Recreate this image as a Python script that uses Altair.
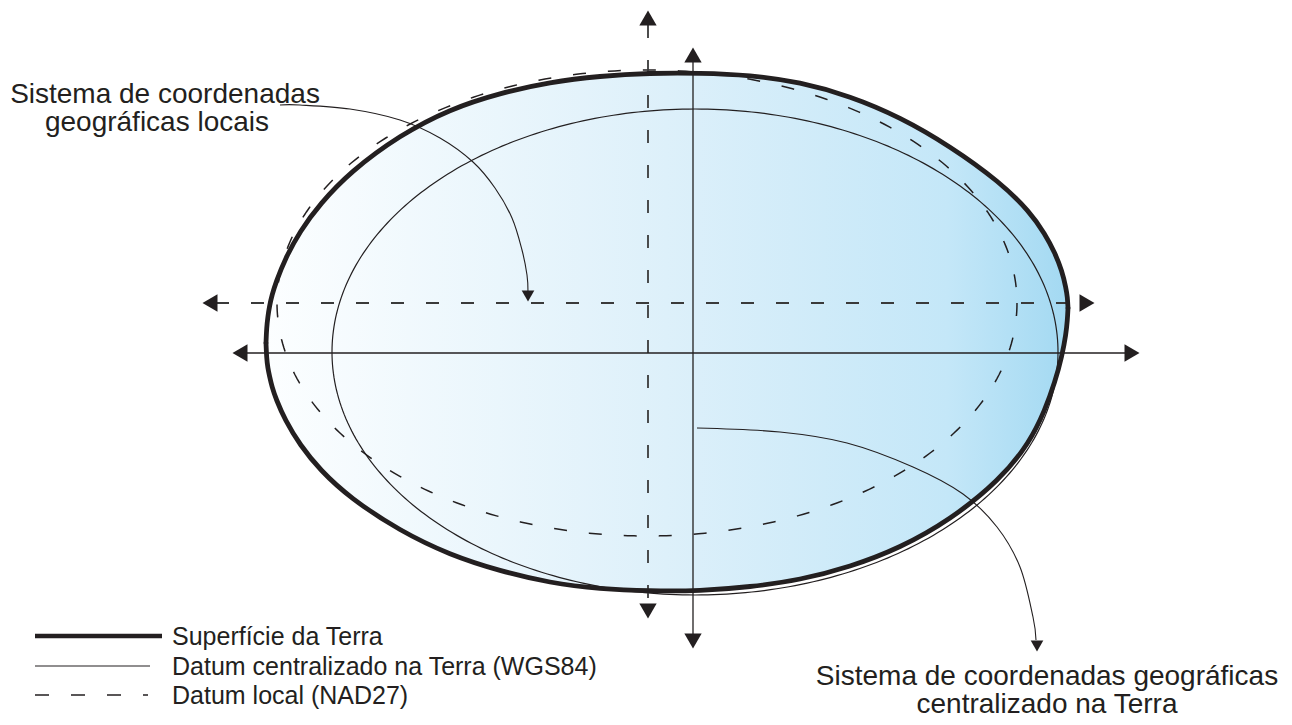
import altair as alt
import numpy as np
import pandas as pd

INK = "#231f20"
FONT = "Liberation Sans"

# ---- Earth surface outline (pixel coords) ----
EARTH_X = [266, 266.6, 267.8, 269.5, 272, 276, 285, 300, 320, 350, 400, 450, 500, 550, 600, 650,
           700, 750, 800, 850, 900, 950, 1000, 1030, 1045, 1055, 1062, 1066, 1067.4, 1068]
EARTH_TOP = [343, 328, 317, 306, 295, 282, 259, 231, 204, 172, 135, 109, 93, 82, 76, 73,
             73, 75, 82, 96, 117, 146, 182, 212, 234, 253, 271, 288, 297, 308]
EARTH_BOT = [343, 358, 368, 376, 387, 399, 420, 445, 470, 498, 531, 555, 571, 583, 589, 591,
             591, 587, 580, 567, 548, 520, 480, 442, 410, 382, 356, 334, 320, 308]

# ---- Datum ellipses: centre and semi-axes ----
DATUM_NAME = ["WGS84", "NAD27"]
DATUM_CX = [695, 647]
DATUM_CY = [352, 303]
DATUM_RX = [363, 370]
DATUM_RY = [243, 233]

# ---- Coordinate axes (segments) ----
AXIS_KIND = ["solid", "solid", "dashed", "dashed"]
AXIS_X1 = [246, 693, 216, 648]
AXIS_X2 = [1126, 693, 1081, 648]
AXIS_Y1 = [353, 62, 303, 25]
AXIS_Y2 = [353, 634, 303, 604]

# ---- Arrow heads ----
HEAD_X = [240, 1132, 693, 693, 210, 1087, 648, 648, 528, 1037]
HEAD_Y = [353, 353, 55, 641, 303, 303, 18, 611, 296, 646]
HEAD_SHAPE = ["triangle-left", "triangle-right", "triangle-up", "triangle-down",
              "triangle-left", "triangle-right", "triangle-up", "triangle-down",
              "triangle-down", "triangle-down"]
HEAD_SIZE = [300, 300, 300, 300, 300, 300, 300, 300, 160, 160]

# ---- Callout curves ----
CURVE1_X = [280, 300, 350, 400, 440, 473, 495, 512, 522, 527, 528]
CURVE1_Y = [105, 105, 109, 120, 138, 162, 188, 218, 250, 275, 292]
CURVE2_X = [697, 780, 847, 913, 963, 997, 1020, 1033, 1036]
CURVE2_Y = [428, 432, 443, 467, 494, 527, 567, 617, 640]

# ---- Texts ----
NOTE_TEXT = ["Sistema de coordenadas", "geográficas locais",
             "Sistema de coordenadas geográficas", "centralizado na Terra"]
NOTE_X = [165, 157, 1047, 1047]
NOTE_Y = [103, 131, 685, 713]

LEG_TEXT = ["Superfície da Terra", "Datum centralizado na Terra (WGS84)", "Datum local (NAD27)"]
LEG_KIND = ["thick", "thin", "dashed"]
LEG_X1 = [35, 35, 35]
LEG_X2 = [162, 150, 148]
LEG_Y = [636, 666, 695]
LEG_TX = [172, 172, 172]

xs = alt.Scale(domain=[8, 1284], nice=False, zero=False)
ys = alt.Scale(domain=[8, 717], nice=False, zero=False, reverse=True)


def X(f):
    return alt.X(f, type="quantitative", scale=xs, axis=None)


def Y(f):
    return alt.Y(f, type="quantitative", scale=ys, axis=None)


earth = pd.DataFrame({"x": EARTH_X, "top": EARTH_TOP, "bot": EARTH_BOT})

fill = alt.Chart(earth).mark_area(
    interpolate="basis",
    color=alt.Gradient(
        gradient="linear", x1=0, x2=1, y1=0, y2=0,
        stops=[alt.GradientStop(offset=0, color="#fcfeff"),
               alt.GradientStop(offset=0.5, color="#ddf0fa"),
               alt.GradientStop(offset=0.85, color="#c4e7f8"),
               alt.GradientStop(offset=1, color="#a3d9f2")]),
).encode(x=X("x"), y=Y("top"), y2="bot")

outline_top = alt.Chart(earth).mark_line(
    interpolate="basis", color=INK, strokeWidth=4.8, strokeCap="round"
).encode(x=X("x"), y=Y("top"))
outline_bot = alt.Chart(earth).mark_line(
    interpolate="basis", color=INK, strokeWidth=4.8, strokeCap="round"
).encode(x=X("x"), y=Y("bot"))

# ellipses from centre / semi-axes
rows = []
t = np.linspace(0, 2 * np.pi, 361)
for n, cx, cy, rx, ry in zip(DATUM_NAME, DATUM_CX, DATUM_CY, DATUM_RX, DATUM_RY):
    for i, tt in enumerate(t):
        rows.append({"name": n, "i": i, "x": cx + rx * np.cos(tt), "y": cy + ry * np.sin(tt)})
ell = pd.DataFrame(rows)

wgs = alt.Chart(ell).transform_filter(alt.datum.name == "WGS84").mark_line(
    color=INK, strokeWidth=1.2
).encode(x=X("x"), y=Y("y"), order="i:Q")
nad = alt.Chart(ell).transform_filter(alt.datum.name == "NAD27").mark_line(
    color=INK, strokeWidth=1.5, strokeDash=[13, 22]
).encode(x=X("x"), y=Y("y"), order="i:Q")

axes = pd.DataFrame({"kind": AXIS_KIND, "x1": AXIS_X1, "x2": AXIS_X2, "y1": AXIS_Y1, "y2": AXIS_Y2})
axes_solid = alt.Chart(axes).transform_filter(alt.datum.kind == "solid").mark_rule(
    color=INK, strokeWidth=1.3
).encode(x=X("x1"), x2="x2", y=Y("y1"), y2="y2")
axes_dash = alt.Chart(axes).transform_filter(alt.datum.kind == "dashed").mark_rule(
    color="#3a3a3a", strokeWidth=1.8, strokeDash=[13, 22]
).encode(x=X("x1"), x2="x2", y=Y("y1"), y2="y2")

heads = pd.DataFrame({"x": HEAD_X, "y": HEAD_Y, "shape": HEAD_SHAPE, "size": HEAD_SIZE})
head_marks = alt.Chart(heads).mark_point(
    filled=True, color=INK, opacity=1, strokeWidth=0
).encode(x=X("x"), y=Y("y"),
         shape=alt.Shape("shape:N", scale=None),
         size=alt.Size("size:Q", scale=None))

c1 = pd.DataFrame({"x": CURVE1_X, "y": CURVE1_Y, "i": range(len(CURVE1_X))})
c2 = pd.DataFrame({"x": CURVE2_X, "y": CURVE2_Y, "i": range(len(CURVE2_X))})
curve1 = alt.Chart(c1).mark_line(color=INK, strokeWidth=1.1, interpolate="cardinal").encode(
    x=X("x"), y=Y("y"), order="i:Q")
curve2 = alt.Chart(c2).mark_line(color=INK, strokeWidth=1.1, interpolate="cardinal").encode(
    x=X("x"), y=Y("y"), order="i:Q")

notes = pd.DataFrame({"t": NOTE_TEXT, "x": NOTE_X, "y": NOTE_Y})
note_marks = alt.Chart(notes).mark_text(
    font=FONT, fontSize=28, color=INK, align="center", baseline="alphabetic"
).encode(x=X("x"), y=Y("y"), text="t:N")

leg = pd.DataFrame({"t": LEG_TEXT, "kind": LEG_KIND, "x1": LEG_X1, "x2": LEG_X2,
                    "y": LEG_Y, "tx": LEG_TX})
leg_thick = alt.Chart(leg).transform_filter(alt.datum.kind == "thick").mark_rule(
    color=INK, strokeWidth=4.5).encode(x=X("x1"), x2="x2", y=Y("y"))
leg_thin = alt.Chart(leg).transform_filter(alt.datum.kind == "thin").mark_rule(
    color=INK, strokeWidth=1.2).encode(x=X("x1"), x2="x2", y=Y("y"))
leg_dash = alt.Chart(leg).transform_filter(alt.datum.kind == "dashed").mark_rule(
    color=INK, strokeWidth=1.5, strokeDash=[14, 22]).encode(x=X("x1"), x2="x2", y=Y("y"))
leg_text = alt.Chart(leg).mark_text(
    font=FONT, fontSize=25, color=INK, align="left", baseline="middle", dy=1
).encode(x=X("tx"), y=Y("y"), text="t:N")

chart = alt.layer(
    fill, nad, wgs, axes_dash, axes_solid, outline_top, outline_bot,
    curve1, curve2, head_marks, note_marks,
    leg_thick, leg_thin, leg_dash, leg_text,
).properties(
    width=1276, height=709, padding=0,
    autosize=alt.AutoSizeParams(type="none"),
    background="white",
).configure_view(stroke=None)

chart.save("out.html", embed_options={"renderer": "svg", "actions": False})
